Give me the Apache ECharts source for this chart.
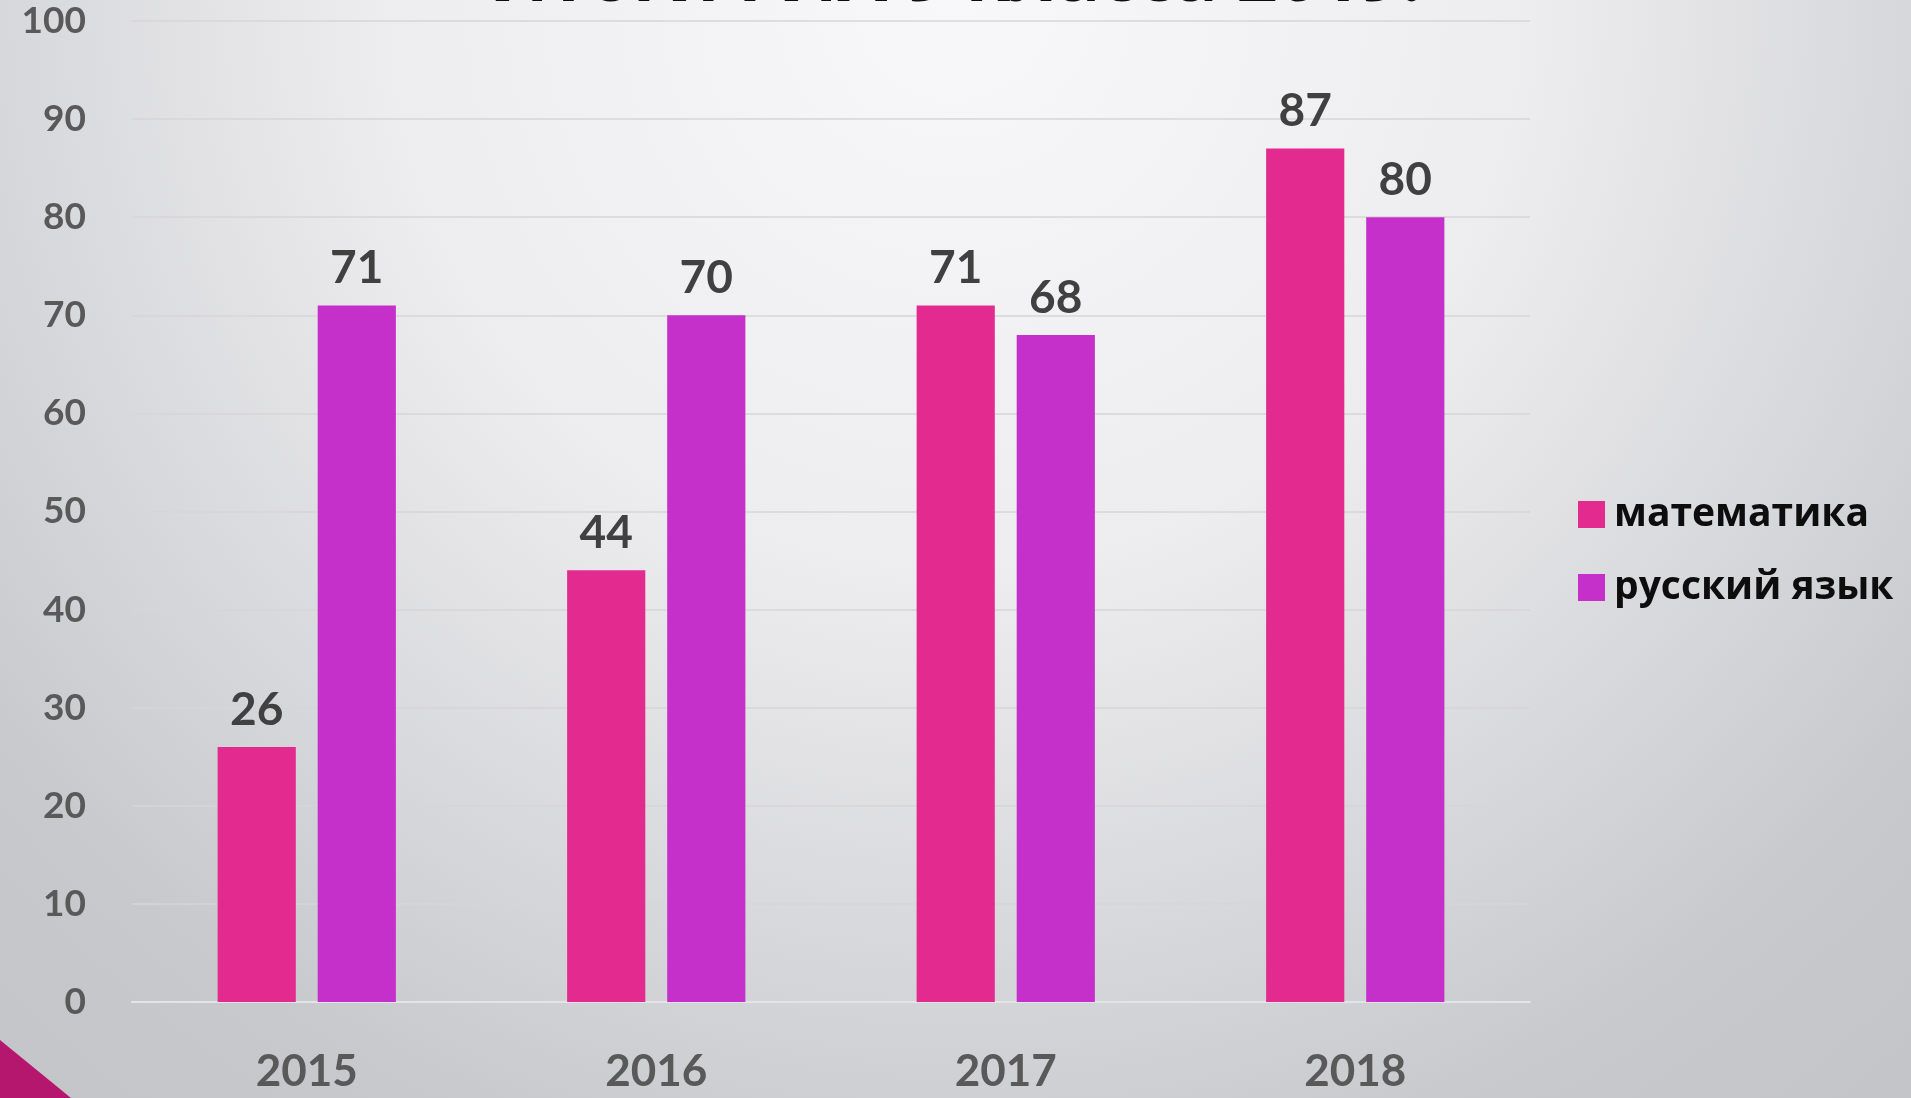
<!DOCTYPE html>
<html>
<head>
<meta charset="utf-8">
<title>Итоги</title>
<script src="https://cdn.jsdelivr.net/npm/echarts@6/dist/echarts.min.js"></script>
<style>
    html, body { margin: 0; padding: 0; }
    #chart { width: 1911px; height: 1098px; }
</style>
</head>
<body>
<div id="chart"></div>
<script>
var years = ['2015', '2016', '2017', '2018'];
var mathValues = [26, 44, 71, 87];
var russianValues = [71, 70, 68, 80];
var seriesNames = ['математика', 'русский язык'];
var yMin = 0, yMax = 100, yStep = 10;

var myChart = echarts.init(document.getElementById('chart'));

var barLabel = {
    show: true,
    position: 'top',
    distance: 14,
    color: '#404040',
    fontSize: 46,
    fontWeight: 'bold',
    fontFamily: 'Lato'
};

var option = {
    backgroundColor: {
        type: 'radial',
        x: 0.5, y: 0.0, r: 1.3,
        colorStops: [
            { offset: 0, color: '#f8f8fa' },
            { offset: 0.4, color: '#ededef' },
            { offset: 0.85, color: '#c8c9cd' },
            { offset: 1, color: '#c4c5c9' }
        ]
    },
    graphic: [
        {   // заголовок слайда, обрезан сверху
            type: 'text',
            left: 'center',
            top: -56,
            z: 100,
            style: {
                text: 'Итоги ГИА 9 класса 2019.',
                fill: '#0d0d0d',
                font: 'bold 72px "Open Sans"'
            }
        },
        {   // угловой треугольник
            type: 'polygon',
            shape: { points: [[0, 1040], [71, 1098], [0, 1098]] },
            style: { fill: '#b5166e' }
        }
    ],
    legend: {
        orient: 'vertical',
        left: 1573,
        top: 490,
        itemWidth: 27,
        itemHeight: 27,
        itemGap: 34,
        icon: 'rect',
        data: seriesNames,
        textStyle: {
            color: '#0d0d0d',
            fontSize: 39,
            fontWeight: 'bold',
            fontFamily: 'Open Sans',
            padding: [0, 0, 0, 4]
        }
    },
    grid: {
        left: 132,
        right: 381,
        top: 21,
        bottom: 96
    },
    xAxis: {
        type: 'category',
        data: years,
        axisLine: { show: true, lineStyle: { color: '#e4e4e6', width: 2 } },
        axisTick: { show: false },
        axisLabel: {
            margin: 48,
            color: '#595959',
            fontSize: 44,
            fontWeight: 'bold',
            fontFamily: 'Lato'
        }
    },
    yAxis: {
        type: 'value',
        min: yMin,
        max: yMax,
        interval: yStep,
        axisLine: { show: false },
        axisTick: { show: false },
        splitLine: { lineStyle: { color: '#d6d6d8', width: 1.5 } },
        axisLabel: {
            margin: 46,
            color: '#595959',
            fontSize: 37,
            fontWeight: 'bold',
            fontFamily: 'Lato'
        }
    },
    series: [
        {
            name: seriesNames[0],
            type: 'bar',
            data: mathValues,
            barGap: '28%',
            barCategoryGap: '49%',
            itemStyle: { color: '#e32b8f' },
            label: barLabel
        },
        {
            name: seriesNames[1],
            type: 'bar',
            data: russianValues,
            itemStyle: { color: '#c52fca' },
            label: barLabel
        }
    ]
};

myChart.setOption(option);
</script>
</body>
</html>
